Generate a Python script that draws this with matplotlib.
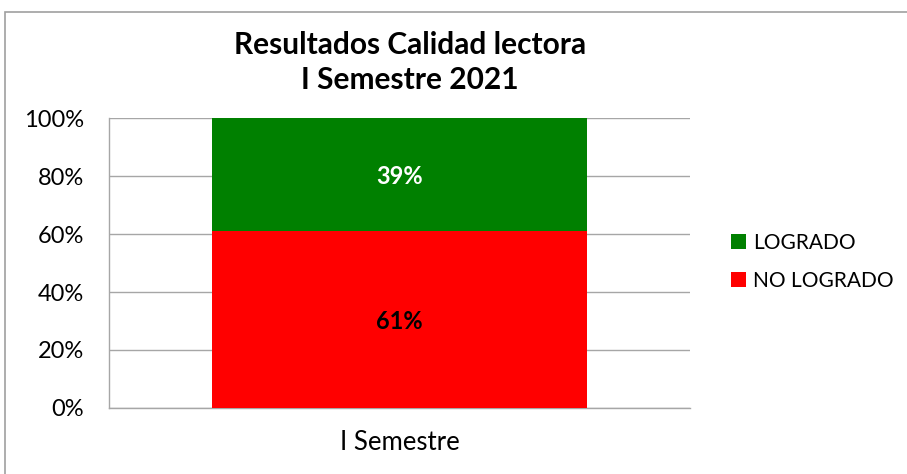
import matplotlib
matplotlib.use("Agg")
import matplotlib.pyplot as plt
from matplotlib.patches import Rectangle, Patch

categories = ["I Semestre"]
no_logrado = [61]
logrado = [39]
series_names = ["LOGRADO", "NO LOGRADO"]
yticks = [0, 20, 40, 60, 80, 100]
ytick_labels = ["0%", "20%", "40%", "60%", "80%", "100%"]
title_lines = ["Resultados Calidad lectora", "I Semestre 2021"]

plt.rcParams['font.family'] = ['Lato', 'DejaVu Sans']

W, H = 907, 474
fig = plt.figure(figsize=(W/100, H/100), dpi=100)
ax = fig.add_axes([109/W, 1-408/H, (690-109)/W, (408-118)/H])

green = "#008000"
red = "#ff0000"
x = range(len(categories))
ax.bar(x, no_logrado, width=0.645, color=red, zorder=3)
ax.bar(x, logrado, bottom=no_logrado, width=0.645, color=green, zorder=3)

for i in x:
    ax.text(i, no_logrado[i]/2, f"{no_logrado[i]}%", ha="center", va="center_baseline",
            fontsize=17, fontweight="bold", color="black", zorder=4)
    ax.text(i, no_logrado[i] + logrado[i]/2, f"{logrado[i]}%", ha="center", va="center_baseline",
            fontsize=17, fontweight="bold", color="white", zorder=4)

ax.set_xlim(-0.5, len(categories)-0.5)
ax.set_ylim(0, 100)
ax.set_yticks(yticks)
ax.set_yticklabels(ytick_labels)
ax.set_xticks(list(x))
ax.set_xticklabels(categories)
ax.tick_params(axis="both", length=0, colors="black")
ax.tick_params(axis="y", pad=18, labelsize=17)
ax.tick_params(axis="x", pad=16, labelsize=18.5)
ax.grid(axis="y", color="#a6a6a6", linewidth=1, zorder=0)
for s in ["top", "right"]:
    ax.spines[s].set_visible(False)
for s in ["left", "bottom"]:
    ax.spines[s].set_color("#a6a6a6")
    ax.spines[s].set_linewidth(1)

fig.text(410/W, 1-45/H, title_lines[0], ha="center", va="center", fontsize=21.5,
         fontweight="bold")
fig.text(410/W, 1-80/H, title_lines[1], ha="center", va="center", fontsize=21.5,
         fontweight="bold")

handles = [Patch(facecolor=green), Patch(facecolor=red)]
fig.legend(handles, series_names, loc="center left",
           bbox_to_anchor=(712/W, 1-262/H), frameon=False, fontsize=15,
           handlelength=0.72, handleheight=0.72, handletextpad=0.35,
           labelspacing=0.85)

fig.patches.append(Rectangle((5/W, -0.05), 2, 1.05 - 12/H, transform=fig.transFigure,
                             fill=False, edgecolor="#a0a0a0", linewidth=1.2))

fig.savefig("out.png", dpi=100)
